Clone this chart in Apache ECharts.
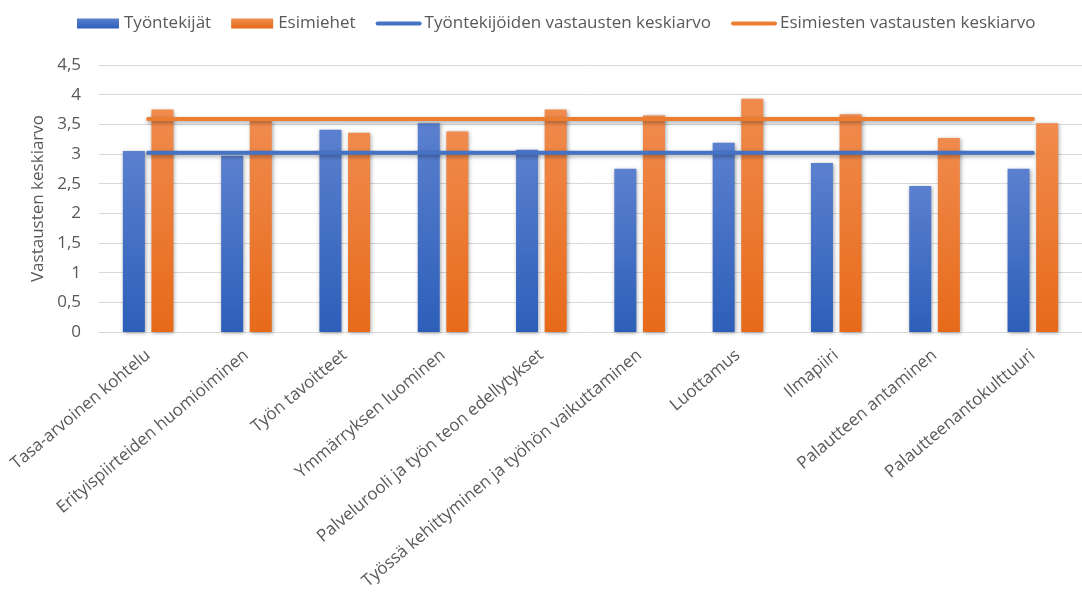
<!DOCTYPE html>
<html>
<head>
<meta charset="utf-8">
<script src="https://cdn.jsdelivr.net/npm/echarts@6/dist/echarts.min.js"></script>
<style>
  html, body { margin: 0; padding: 0; background: #fff; }
  #chart { width: 1082px; height: 596px; }
</style>
</head>
<body>
<div id="chart"></div>
<script>
// Survey themes on the x axis
const categories = [
  'Tasa-arvoinen kohtelu',
  'Erityispiirteiden huomioiminen',
  'Työn tavoitteet',
  'Ymmärryksen luominen',
  'Palvelurooli ja työn teon edellytykset',
  'Työssä kehittyminen ja työhön vaikuttaminen',
  'Luottamus',
  'Ilmapiiri',
  'Palautteen antaminen',
  'Palautteenantokulttuuri'
];

// Average answers per theme
const employees = [3.05, 2.97, 3.41, 3.52, 3.07, 2.75, 3.19, 2.85, 2.46, 2.75];
const supervisors = [3.75, 3.56, 3.36, 3.38, 3.75, 3.65, 3.93, 3.67, 3.27, 3.52];

// Overall averages, drawn as flat lines across the themes
const employeesMean = [3.02, 3.02, 3.02, 3.02, 3.02, 3.02, 3.02, 3.02, 3.02, 3.02];
const supervisorsMean = [3.59, 3.59, 3.59, 3.59, 3.59, 3.59, 3.59, 3.59, 3.59, 3.59];

const yTicks = { min: 0, max: 4.5, interval: 0.5 };

const FONT = '"Open Sans", "Noto Sans", sans-serif';
const TEXT = '#595959';
const FS = 17;

const grad = (top, bottom) => new echarts.graphic.LinearGradient(0, 0, 0, 1, [
  { offset: 0, color: top },
  { offset: 1, color: bottom }
]);

const barShadow = {
  shadowColor: 'rgba(0,0,0,0.35)',
  shadowBlur: 4,
  shadowOffsetX: 1,
  shadowOffsetY: 1
};

// legend entries for the mean lines: plain line, no marker
const lineLegendItem = (name, color) => ({
  name,
  itemStyle: { color: 'rgba(0,0,0,0)', borderWidth: 0, opacity: 0 },
  lineStyle: { color, width: 4, cap: 'round' }
});

const chart = echarts.init(document.getElementById('chart'), null, { renderer: 'canvas' });

chart.setOption({
  animation: false,
  backgroundColor: '#ffffff',
  textStyle: { fontFamily: FONT, color: TEXT },
  legend: {
    left: 72,
    top: 10,
    itemWidth: 42,
    itemHeight: 10,
    itemGap: 20,
    textStyle: { fontFamily: FONT, fontSize: FS, color: TEXT },
    data: [
      { name: 'Työntekijät', icon: 'rect' },
      { name: 'Esimiehet', icon: 'rect' },
      lineLegendItem('Työntekijöiden vastausten keskiarvo', '#4472c4'),
      lineLegendItem('Esimiesten vastausten keskiarvo', '#ed7d31')
    ]
  },
  grid: {
    left: 99,
    right: -2,
    top: 65,
    bottom: 264,
    containLabel: false
  },
  xAxis: {
    type: 'category',
    data: categories,
    boundaryGap: true,
    axisLine: { show: true, lineStyle: { color: '#d9d9d9', width: 1 } },
    axisTick: { show: false },
    axisLabel: {
      rotate: 40,
      interval: 0,
      margin: 21,
      fontFamily: FONT,
      fontSize: FS,
      color: TEXT
    }
  },
  yAxis: {
    type: 'value',
    min: yTicks.min,
    max: yTicks.max,
    interval: yTicks.interval,
    name: 'Vastausten keskiarvo',
    nameLocation: 'middle',
    nameGap: 52,
    nameRotate: 90,
    nameTextStyle: { fontFamily: FONT, fontSize: FS, color: TEXT },
    axisLine: { show: false },
    axisTick: { show: false },
    axisLabel: {
      margin: 18,
      fontFamily: FONT,
      fontSize: FS,
      color: TEXT,
      formatter: v => String(v).replace('.', ',')
    },
    splitLine: { show: true, lineStyle: { color: '#d9d9d9', width: 1 } }
  },
  series: [
    {
      name: 'Työntekijät',
      type: 'bar',
      data: employees,
      barWidth: 22,
      barGap: '30%',
      itemStyle: Object.assign({ color: grad('#5b80cf', '#2d5fb9') }, barShadow),
      z: 2
    },
    {
      name: 'Esimiehet',
      type: 'bar',
      data: supervisors,
      barWidth: 22,
      barGap: '30%',
      itemStyle: Object.assign({ color: grad('#f08b4d', '#e76a1a') }, barShadow),
      z: 2
    },
    {
      name: 'Työntekijöiden vastausten keskiarvo',
      type: 'line',
      data: employeesMean,
      symbol: 'none',
      color: '#4472c4',
      lineStyle: {
        color: '#4472c4',
        width: 4,
        cap: 'round',
        shadowColor: 'rgba(0,0,0,0.35)',
        shadowBlur: 4,
        shadowOffsetY: 2
      },
      z: 5
    },
    {
      name: 'Esimiesten vastausten keskiarvo',
      type: 'line',
      data: supervisorsMean,
      symbol: 'none',
      color: '#ed7d31',
      lineStyle: {
        color: '#ed7d31',
        width: 4,
        cap: 'round',
        shadowColor: 'rgba(0,0,0,0.35)',
        shadowBlur: 4,
        shadowOffsetY: 2
      },
      z: 5
    }
  ]
});
</script>
</body>
</html>
